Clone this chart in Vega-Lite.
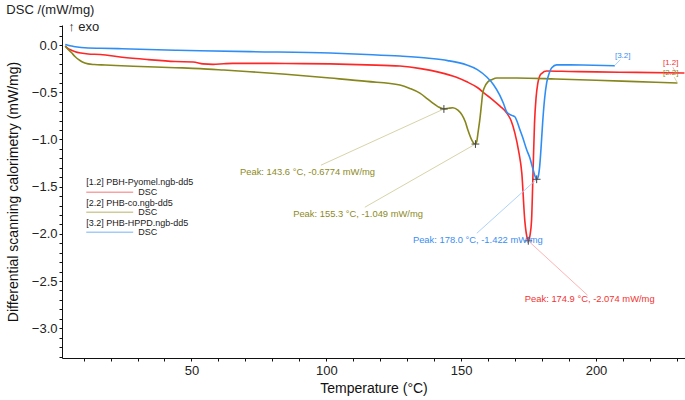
{
  "$schema": "https://vega.github.io/schema/vega-lite/v6.json",
  "width": 623,
  "height": 333,
  "autosize": {"type": "none"},
  "padding": {"left": 62, "top": 25, "right": 0, "bottom": 42},
  "background": "white",
  "config": {"view": {"stroke": null}, "font": "Liberation Sans"},
  "title": {"text": "DSC /(mW/mg)", "anchor": "start", "frame": "bounds", "fontSize": 13, "fontWeight": "normal", "color": "#222", "baseline": "middle", "offset": 4, "dy": 7},
  "datasets": {
    "curves": [
      {"s": "1.2", "T": 3.2, "v": -0.01}, {"s": "1.2", "T": 3.9, "v": -0.03}, {"s": "1.2", "T": 5.5, "v": -0.055}, {"s": "1.2", "T": 6.9, "v": -0.071}, {"s": "1.2", "T": 9, "v": -0.085}, {"s": "1.2", "T": 11.7, "v": -0.095}, {"s": "1.2", "T": 16.2, "v": -0.1}, {"s": "1.2", "T": 24.3, "v": -0.13}, {"s": "1.2", "T": 34, "v": -0.155}, {"s": "1.2", "T": 44, "v": -0.175}, {"s": "1.2", "T": 50.6, "v": -0.18}, {"s": "1.2", "T": 54.3, "v": -0.2}, {"s": "1.2", "T": 58, "v": -0.205}, {"s": "1.2", "T": 62, "v": -0.198}, {"s": "1.2", "T": 65.4, "v": -0.194}, {"s": "1.2", "T": 71.7, "v": -0.194}, {"s": "1.2", "T": 85, "v": -0.196}, {"s": "1.2", "T": 101.4, "v": -0.2}, {"s": "1.2", "T": 115, "v": -0.21}, {"s": "1.2", "T": 127.3, "v": -0.223}, {"s": "1.2", "T": 135, "v": -0.25}, {"s": "1.2", "T": 142, "v": -0.29}, {"s": "1.2", "T": 148, "v": -0.34}, {"s": "1.2", "T": 152.1, "v": -0.39}, {"s": "1.2", "T": 156, "v": -0.45}, {"s": "1.2", "T": 159, "v": -0.52}, {"s": "1.2", "T": 161.7, "v": -0.58}, {"s": "1.2", "T": 164.5, "v": -0.65}, {"s": "1.2", "T": 166.9, "v": -0.72}, {"s": "1.2", "T": 168.5, "v": -0.8}, {"s": "1.2", "T": 169.9, "v": -0.93}, {"s": "1.2", "T": 171.3, "v": -1.12}, {"s": "1.2", "T": 172.5, "v": -1.36}, {"s": "1.2", "T": 173.6, "v": -1.86}, {"s": "1.2", "T": 174.3, "v": -2.02}, {"s": "1.2", "T": 174.9, "v": -2.074}, {"s": "1.2", "T": 175.5, "v": -2.02}, {"s": "1.2", "T": 176.1, "v": -1.86}, {"s": "1.2", "T": 176.7, "v": -1.3}, {"s": "1.2", "T": 177.2, "v": -0.83}, {"s": "1.2", "T": 177.8, "v": -0.55}, {"s": "1.2", "T": 178.4, "v": -0.41}, {"s": "1.2", "T": 179.1, "v": -0.33}, {"s": "1.2", "T": 179.9, "v": -0.3}, {"s": "1.2", "T": 181.7, "v": -0.276}, {"s": "1.2", "T": 190, "v": -0.28}, {"s": "1.2", "T": 200, "v": -0.285}, {"s": "1.2", "T": 215, "v": -0.29}, {"s": "1.2", "T": 232.8, "v": -0.297},
      {"s": "2.2", "T": 3.2, "v": -0.01}, {"s": "2.2", "T": 3.9, "v": -0.035}, {"s": "2.2", "T": 5.5, "v": -0.08}, {"s": "2.2", "T": 6.9, "v": -0.124}, {"s": "2.2", "T": 8.2, "v": -0.155}, {"s": "2.2", "T": 9.4, "v": -0.177}, {"s": "2.2", "T": 11.7, "v": -0.2}, {"s": "2.2", "T": 14, "v": -0.207}, {"s": "2.2", "T": 18, "v": -0.212}, {"s": "2.2", "T": 28.4, "v": -0.225}, {"s": "2.2", "T": 44, "v": -0.24}, {"s": "2.2", "T": 53.2, "v": -0.25}, {"s": "2.2", "T": 62, "v": -0.265}, {"s": "2.2", "T": 71.7, "v": -0.283}, {"s": "2.2", "T": 85, "v": -0.31}, {"s": "2.2", "T": 101.4, "v": -0.35}, {"s": "2.2", "T": 115, "v": -0.385}, {"s": "2.2", "T": 127.3, "v": -0.424}, {"s": "2.2", "T": 131, "v": -0.46}, {"s": "2.2", "T": 134.7, "v": -0.51}, {"s": "2.2", "T": 137.5, "v": -0.57}, {"s": "2.2", "T": 139.5, "v": -0.615}, {"s": "2.2", "T": 141.5, "v": -0.655}, {"s": "2.2", "T": 143.6, "v": -0.6774}, {"s": "2.2", "T": 145.3, "v": -0.67}, {"s": "2.2", "T": 146.9, "v": -0.665}, {"s": "2.2", "T": 148.8, "v": -0.69}, {"s": "2.2", "T": 150.3, "v": -0.74}, {"s": "2.2", "T": 151.5, "v": -0.81}, {"s": "2.2", "T": 152.5, "v": -0.9}, {"s": "2.2", "T": 154, "v": -1.01}, {"s": "2.2", "T": 154.8, "v": -1.045}, {"s": "2.2", "T": 155.3, "v": -1.049}, {"s": "2.2", "T": 155.8, "v": -1.02}, {"s": "2.2", "T": 156.3, "v": -0.92}, {"s": "2.2", "T": 156.9, "v": -0.795}, {"s": "2.2", "T": 157.5, "v": -0.64}, {"s": "2.2", "T": 158, "v": -0.51}, {"s": "2.2", "T": 158.8, "v": -0.44}, {"s": "2.2", "T": 159.9, "v": -0.39}, {"s": "2.2", "T": 161.5, "v": -0.365}, {"s": "2.2", "T": 163.2, "v": -0.35}, {"s": "2.2", "T": 170.6, "v": -0.35}, {"s": "2.2", "T": 185, "v": -0.36}, {"s": "2.2", "T": 200, "v": -0.373}, {"s": "2.2", "T": 215, "v": -0.388}, {"s": "2.2", "T": 230.2, "v": -0.403},
      {"s": "3.2", "T": 3.2, "v": 0.005}, {"s": "3.2", "T": 3.9, "v": 0.0}, {"s": "3.2", "T": 5.5, "v": -0.01}, {"s": "3.2", "T": 6.9, "v": -0.018}, {"s": "3.2", "T": 11.7, "v": -0.032}, {"s": "3.2", "T": 16.2, "v": -0.035}, {"s": "3.2", "T": 24.3, "v": -0.039}, {"s": "3.2", "T": 44, "v": -0.055}, {"s": "3.2", "T": 53.2, "v": -0.06}, {"s": "3.2", "T": 71.7, "v": -0.07}, {"s": "3.2", "T": 101.4, "v": -0.085}, {"s": "3.2", "T": 115, "v": -0.1}, {"s": "3.2", "T": 127.3, "v": -0.117}, {"s": "3.2", "T": 138, "v": -0.14}, {"s": "3.2", "T": 145, "v": -0.165}, {"s": "3.2", "T": 152.1, "v": -0.212}, {"s": "3.2", "T": 156, "v": -0.26}, {"s": "3.2", "T": 159.5, "v": -0.339}, {"s": "3.2", "T": 162, "v": -0.42}, {"s": "3.2", "T": 164.3, "v": -0.53}, {"s": "3.2", "T": 165.7, "v": -0.62}, {"s": "3.2", "T": 166.9, "v": -0.71}, {"s": "3.2", "T": 167.7, "v": -0.73}, {"s": "3.2", "T": 168.8, "v": -0.745}, {"s": "3.2", "T": 169.9, "v": -0.76}, {"s": "3.2", "T": 170.6, "v": -0.8}, {"s": "3.2", "T": 171.7, "v": -0.89}, {"s": "3.2", "T": 172.8, "v": -0.976}, {"s": "3.2", "T": 174.3, "v": -1.11}, {"s": "3.2", "T": 175.4, "v": -1.19}, {"s": "3.2", "T": 176.5, "v": -1.3}, {"s": "3.2", "T": 177.4, "v": -1.39}, {"s": "3.2", "T": 178.0, "v": -1.422}, {"s": "3.2", "T": 178.5, "v": -1.4}, {"s": "3.2", "T": 179.1, "v": -1.29}, {"s": "3.2", "T": 179.6, "v": -1.1}, {"s": "3.2", "T": 180.2, "v": -0.83}, {"s": "3.2", "T": 180.9, "v": -0.58}, {"s": "3.2", "T": 181.7, "v": -0.4}, {"s": "3.2", "T": 182.4, "v": -0.32}, {"s": "3.2", "T": 183.6, "v": -0.24}, {"s": "3.2", "T": 185.4, "v": -0.21}, {"s": "3.2", "T": 195, "v": -0.212}, {"s": "3.2", "T": 207, "v": -0.22}
    ],
    "peaks": [
      {"s": "2.2", "T": 143.6, "v": -0.6774, "T2": 98.0, "v2": -1.273, "tT": 68.0, "tv": -1.35, "label": "Peak: 143.6 °C, -0.6774 mW/mg"},
      {"s": "2.2", "T": 155.3, "v": -1.049, "T2": 114.3, "v2": -1.718, "tT": 87.7, "tv": -1.792, "label": "Peak: 155.3 °C, -1.049 mW/mg"},
      {"s": "3.2", "T": 178.0, "v": -1.422, "T2": 155.8, "v2": -1.994, "tT": 132.1, "tv": -2.07, "label": "Peak: 178.0 °C, -1.422 mW/mg"},
      {"s": "1.2", "T": 174.9, "v": -2.074, "T2": 196.9, "v2": -2.651, "tT": 173.6, "tv": -2.69, "label": "Peak: 174.9 °C, -2.074 mW/mg"}
    ],
    "legend": [
      {"s": "1.2", "name": "[1.2] PBH-Pyomel.ngb-dd5", "T": 11, "v": -1.453, "lv": -1.559},
      {"s": "2.2", "name": "[2.2] PHB-co.ngb-dd5", "T": 11, "v": -1.672, "lv": -1.771},
      {"s": "3.2", "name": "[3.2] PHB-HPPD.ngb-dd5", "T": 11, "v": -1.884, "lv": -1.983}
    ],
    "ends": [
      {"s": "3.2", "label": "[3.2]", "T": 209.9, "v": -0.117, "T1": 207, "v1": -0.215, "T2": 209, "v2": -0.155},
      {"s": "1.2", "label": "[1.2]", "T": 227.7, "v": -0.19, "T1": 229.5, "v1": -0.29, "T2": 228.5, "v2": -0.235},
      {"s": "2.2", "label": "[2.2]", "T": 227.7, "v": -0.297, "T1": 230.2, "v1": -0.4, "T2": 229, "v2": -0.34}
    ]
  },
  "encoding": {
    "x": {"field": "T", "type": "quantitative",
      "scale": {"domain": [2, 233], "nice": false, "zero": false},
      "axis": {"values": [10, 20, 30, 40, 50, 60, 70, 80, 90, 100, 110, 120, 130, 140, 150, 160, 170, 180, 190, 200, 210, 220, 230],
        "labelExpr": "datum.value % 50 === 0 ? datum.label : ''", "format": "d", "labelOverlap": false, "labelFlush": false,
        "grid": false, "domainColor": "#111", "domainWidth": 1, "tickColor": "#111", "tickSize": 3, "tickWidth": 1,
        "labelFontSize": 13, "labelColor": "#222", "labelPadding": 3,
        "title": "Temperature (°C)", "titleFontSize": 14, "titleFontWeight": "normal", "titleColor": "#111", "titlePadding": 4}},
    "y": {"field": "v", "type": "quantitative",
      "scale": {"domain": [-3.315, 0.212], "nice": false, "zero": false},
      "axis": {"values": [-3.3, -3.2, -3.1, -3.0, -2.9, -2.8, -2.7, -2.6, -2.5, -2.4, -2.3, -2.2, -2.1, -2.0, -1.9, -1.8, -1.7, -1.6, -1.5, -1.4, -1.3, -1.2, -1.1, -1.0, -0.9, -0.8, -0.7, -0.6, -0.5, -0.4, -0.3, -0.2, -0.1, 0.0, 0.1, 0.2],
        "labelExpr": "abs(round(datum.value*10)) % 5 === 0 ? format(datum.value, '.1f') : ''", "labelOverlap": false, "labelFlush": false,
        "grid": false, "domainColor": "#111", "domainWidth": 1, "tickColor": "#111", "tickSize": 3, "tickWidth": 1,
        "labelFontSize": 13, "labelColor": "#222", "labelPadding": 2,
        "title": "Differential scanning calorimetry (mW/mg)", "titleFontSize": 14, "titleFontWeight": "normal", "titleColor": "#111", "titlePadding": 11}}
  },
  "layer": [
    {"data": {"name": "curves"}, "mark": {"type": "line", "strokeWidth": 1.6, "interpolate": "monotone"},
      "encoding": {"color": {"field": "s", "type": "nominal", "scale": {"domain": ["1.2", "2.2", "3.2"], "range": ["#ff2626", "#86861c", "#2f8ef5"]}, "legend": null}}},
    {"data": {"name": "peaks"}, "mark": {"type": "rule", "strokeWidth": 1},
      "encoding": {"x2": {"field": "T2"}, "y2": {"field": "v2"},
        "color": {"field": "s", "type": "nominal", "scale": {"domain": ["1.2", "2.2", "3.2"], "range": ["#ffb3b3", "#d6d4a8", "#aed2fb"]}, "legend": null}}},
    {"data": {"name": "peaks"}, "mark": {"type": "point", "shape": "M-1,0H1M0,-1V1", "size": 60, "filled": false, "stroke": "#444", "strokeWidth": 1, "opacity": 1}},
    {"data": {"name": "peaks"}, "mark": {"type": "text", "fontSize": 9.4, "align": "left", "baseline": "middle"},
      "encoding": {"x": {"field": "tT", "type": "quantitative"}, "y": {"field": "tv", "type": "quantitative"}, "text": {"field": "label"},
        "color": {"field": "s", "type": "nominal", "scale": {"domain": ["1.2", "2.2", "3.2"], "range": ["#f23232", "#8c8a1e", "#3a8ef2"]}, "legend": null}}},
    {"data": {"name": "legend"}, "mark": {"type": "text", "fontSize": 9, "align": "left", "baseline": "middle", "color": "#222"},
      "encoding": {"text": {"field": "name"}}},
    {"data": {"name": "legend"}, "mark": {"type": "text", "fontSize": 9, "align": "left", "baseline": "middle", "color": "#222", "text": "DSC"},
      "encoding": {"x": {"datum": 30.3, "type": "quantitative"}, "y": {"field": "lv", "type": "quantitative"}}},
    {"data": {"name": "legend"}, "mark": {"type": "rule", "strokeWidth": 1.5},
      "encoding": {"x2": {"datum": 28.4}, "y": {"field": "lv", "type": "quantitative"},
        "stroke": {"field": "s", "type": "nominal", "scale": {"domain": ["1.2", "2.2", "3.2"], "range": ["#f7a3a3", "#cfcc98", "#a3cbf7"]}, "legend": null}}},
    {"data": {"name": "ends"}, "mark": {"type": "rule", "strokeWidth": 1},
      "encoding": {"x": {"field": "T1", "type": "quantitative"}, "y": {"field": "v1", "type": "quantitative"}, "x2": {"field": "T2"}, "y2": {"field": "v2"},
        "stroke": {"field": "s", "type": "nominal", "scale": {"domain": ["1.2", "2.2", "3.2"], "range": ["#ffb3b3", "#d6d4a8", "#aed2fb"]}, "legend": null}}},
    {"data": {"name": "ends"}, "mark": {"type": "text", "fontSize": 8, "align": "center", "baseline": "middle"},
      "encoding": {"text": {"field": "label"},
        "color": {"field": "s", "type": "nominal", "scale": {"domain": ["1.2", "2.2", "3.2"], "range": ["#f23232", "#8c8a1e", "#3a8ef2"]}, "legend": null}}},
    {"data": {"values": [{"T": 4.3, "v": 0.19, "label": "↑ exo"}]}, "mark": {"type": "text", "fontSize": 13, "align": "left", "baseline": "middle", "color": "#222"},
      "encoding": {"text": {"field": "label"}}}
  ],
  "resolve": {"scale": {"color": "independent", "stroke": "independent"}}
}
